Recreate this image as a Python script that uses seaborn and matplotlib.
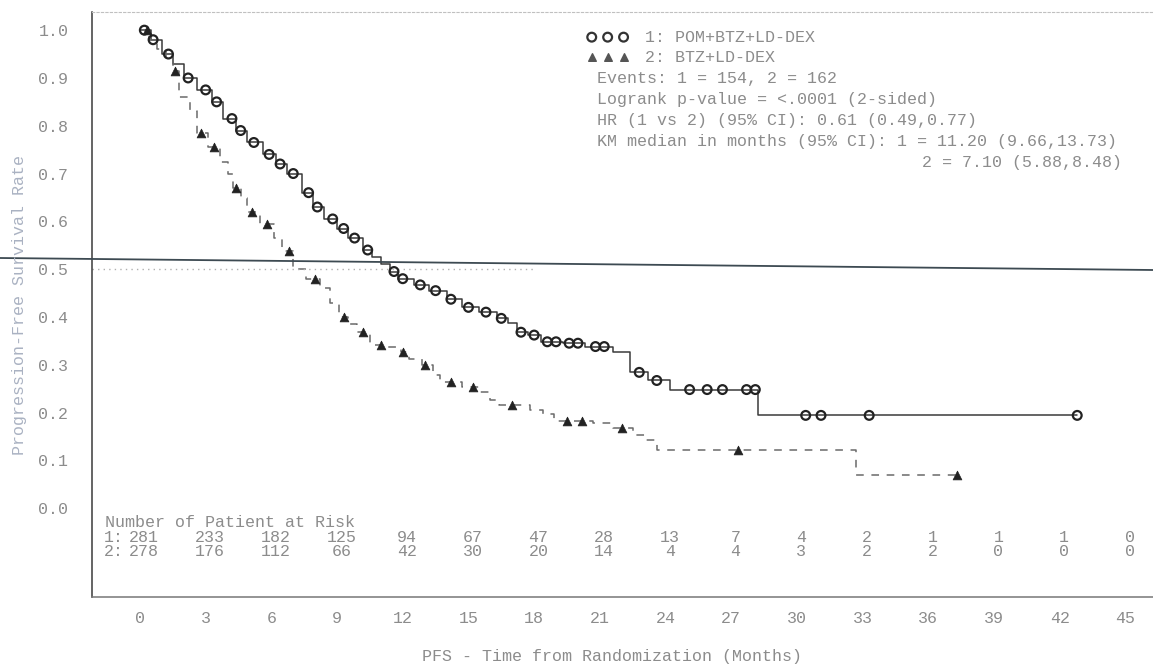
import numpy as np
import matplotlib
matplotlib.use("Agg")
import matplotlib.pyplot as plt
from matplotlib.lines import Line2D
import seaborn as sns

# KM step data (time in months, survival after the drop)
t_pvd = [0, 0.5, 1.0, 1.5, 2.0, 2.6, 3.3, 3.8, 4.4, 4.9, 5.6, 6.2, 6.7, 7.4, 7.9, 8.4,
         9.0, 9.5, 10.2, 10.6, 11.0, 11.4, 11.8, 12.5, 13.2, 14.0, 14.7, 15.5, 16.3,
         16.8, 17.2, 17.7, 18.3, 19.3, 20.3, 21.6, 22.4, 23.2, 24.2, 28.2, 42.8]
s_pvd = [1.0, 0.98, 0.95, 0.93, 0.90, 0.875, 0.85, 0.815, 0.79, 0.765, 0.74, 0.72, 0.70,
         0.66, 0.63, 0.605, 0.585, 0.565, 0.54, 0.525, 0.51, 0.495, 0.48, 0.467, 0.455,
         0.437, 0.42, 0.41, 0.397, 0.388, 0.368, 0.362, 0.348, 0.345, 0.338, 0.326,
         0.284, 0.267, 0.248, 0.194, 0.194]
cens_pvd = [0.2, 0.6, 1.3, 2.2, 3.0, 3.5, 4.2, 4.6, 5.2, 5.9, 6.4, 7.0, 7.7, 8.1, 8.8,
            9.3, 9.8, 10.4, 11.6, 12.0, 12.8, 13.5, 14.2, 15.0, 15.8, 16.5, 17.4, 18.0,
            18.6, 19.0, 19.6, 20.0, 20.8, 21.2, 22.8, 23.6, 25.1, 25.9, 26.6, 27.7, 28.1,
            30.4, 31.1, 33.3, 42.8]

t_vd = [0, 0.4, 0.8, 1.2, 1.5, 1.8, 2.3, 2.6, 3.1, 3.65, 4.0, 4.25, 4.6, 4.9, 5.5, 6.1,
        6.5, 7.0, 7.6, 8.2, 8.7, 9.1, 9.5, 9.9, 10.5, 11.3, 11.9, 12.3, 12.9, 13.4, 13.7,
        14.7, 15.5, 16.0, 16.4, 17.8, 18.4, 18.9, 20.7, 21.6, 22.5, 23.1, 23.6, 32.7, 37.3]
s_vd = [1.0, 0.98, 0.96, 0.94, 0.915, 0.86, 0.83, 0.785, 0.755, 0.725, 0.70, 0.67, 0.648,
        0.62, 0.595, 0.565, 0.537, 0.50, 0.48, 0.46, 0.43, 0.40, 0.385, 0.368, 0.342,
        0.337, 0.326, 0.312, 0.30, 0.278, 0.263, 0.253, 0.242, 0.227, 0.215, 0.206,
        0.196, 0.183, 0.179, 0.168, 0.152, 0.143, 0.122, 0.07, 0.07]
cens_vd = [0.3, 1.6, 2.8, 3.4, 4.4, 5.1, 5.8, 6.8, 8.0, 9.3, 10.2, 11.0, 12.0, 13.0,
           14.2, 15.2, 17.0, 19.5, 20.2, 22.0, 27.3, 37.3]

risk_times = [0, 3, 6, 9, 12, 15, 18, 21, 24, 27, 30, 33, 36, 39, 42, 45]
risk_pvd = [281, 233, 182, 125, 94, 67, 47, 28, 13, 7, 4, 2, 1, 1, 1, 0]
risk_vd = [278, 176, 112, 66, 42, 30, 20, 14, 4, 4, 3, 2, 2, 0, 0, 0]

legend_lines = [
    "Events: 1 = 154, 2 = 162",
    "Logrank p-value = <.0001 (2-sided)",
    "HR (1 vs 2) (95% CI): 0.61 (0.49,0.77)",
    "KM median in months (95% CI): 1 = 11.20 (9.66,13.73)",
]
median_line2 = "2 = 7.10 (5.88,8.48)"

sns.set_style("white")
plt.rcParams['font.family'] = ['Liberation Mono', 'DejaVu Sans Mono']

txt = "#8c8c8c"
fs = 12

fig = plt.figure(figsize=(11.53, 6.66), dpi=100)
ax = fig.add_axes([92 / 1153, 1 - 597 / 666, 1061 / 1153, 585 / 666])


def surv_at(t, s, c):
    idx = np.searchsorted(t, c, side="right") - 1
    return np.asarray(s)[idx]


sns.lineplot(x=t_pvd, y=s_pvd, drawstyle="steps-post", estimator=None, sort=False,
             color="#3a3a3a", linewidth=1.1, ax=ax)
sns.lineplot(x=t_vd, y=s_vd, drawstyle="steps-post", estimator=None, sort=False,
             color="#6a6a6a", linewidth=1.1, linestyle=(0, (5, 5)), ax=ax)

sns.scatterplot(x=cens_pvd, y=surv_at(t_pvd, s_pvd, cens_pvd), marker="o", s=40,
                facecolor="none", edgecolor="#222222", linewidth=1.6, ax=ax, zorder=3)
sns.scatterplot(x=cens_vd, y=surv_at(t_vd, s_vd, cens_vd), marker="^", s=40,
                color="#222222", edgecolor="#222222", ax=ax, zorder=3)

# dotted median reference
ax.hlines(0.5, -2.2, 18, colors="#b0b0b0", linestyles=(0, (1, 3)), linewidth=1)

ax.set_xlim(-2.19, 46.26)
ax.set_ylim(-0.186, 1.038)
ax.set_xticks(np.arange(0, 46, 3))
ax.set_yticks(np.round(np.arange(0, 1.01, 0.1), 1))
ax.set_yticklabels([f"{v:.1f}" for v in np.arange(0, 1.01, 0.1)])
ax.tick_params(axis="both", direction="out", length=5, width=1, color="#444444",
               labelcolor=txt, labelsize=fs)
ax.tick_params(axis="x", pad=5)
ax.tick_params(axis="y", pad=12)

for side in ["left", "bottom"]:
    ax.spines[side].set_color("#3a3a3a")
    ax.spines[side].set_linewidth(1.1)
ax.spines["bottom"].set_color("#777777")
ax.spines["right"].set_visible(False)
ax.spines["top"].set_color("#c0c0c0")
ax.spines["top"].set_linestyle((0, (2, 2)))

fig.text(612 / 1153, 1 - 656 / 666, "PFS - Time from Randomization (Months)",
         fontsize=fs, color=txt, ha="center", va="center")
fig.text(20 / 1153, 1 - 305 / 666, "Progression-Free Survival Rate", fontsize=fs,
         color="#aab2c2", ha="center", va="center", rotation=90)

# at-risk table
ax.text(-1.6, -0.03, "Number of Patient at Risk", fontsize=fs, color=txt, va="center")
ax.text(-1.2, -0.062, "1:", fontsize=fs, color=txt, va="center", ha="center")
ax.text(-1.2, -0.091, "2:", fontsize=fs, color=txt, va="center", ha="center")
for xt, a, b in zip(risk_times, risk_pvd, risk_vd):
    ax.text(xt + 0.2, -0.062, str(a), fontsize=fs, color=txt, va="center", ha="center")
    ax.text(xt + 0.2, -0.091, str(b), fontsize=fs, color=txt, va="center", ha="center")

# legend block
for i, xf in enumerate([0.471, 0.486, 0.501]):
    ax.scatter(xf, 0.957, marker="o", s=40, facecolor="none", edgecolor="#333333",
               linewidth=1.6, transform=ax.transAxes, clip_on=False)
    ax.scatter(xf, 0.923, marker="^", s=30, color="#555555", transform=ax.transAxes,
               clip_on=False)
ax.text(0.521, 0.957, "1: POM+BTZ+LD-DEX", transform=ax.transAxes, fontsize=fs,
        color=txt, va="center")
ax.text(0.521, 0.923, "2: BTZ+LD-DEX", transform=ax.transAxes, fontsize=fs,
        color=txt, va="center")
for i, line in enumerate(legend_lines):
    ax.text(0.476, 0.887 - i * 0.036, line, transform=ax.transAxes, fontsize=fs,
            color=txt, va="center")
ax.text(0.971, 0.742, median_line2, transform=ax.transAxes, fontsize=fs, color=txt,
        va="center", ha="right")

# slanted pen line across the scan
fig.add_artist(Line2D([0, 1], [1 - 258 / 666, 1 - 270 / 666], transform=fig.transFigure,
                      color="#3d4a52", linewidth=1.3))

fig.savefig("out.png", dpi=100)
